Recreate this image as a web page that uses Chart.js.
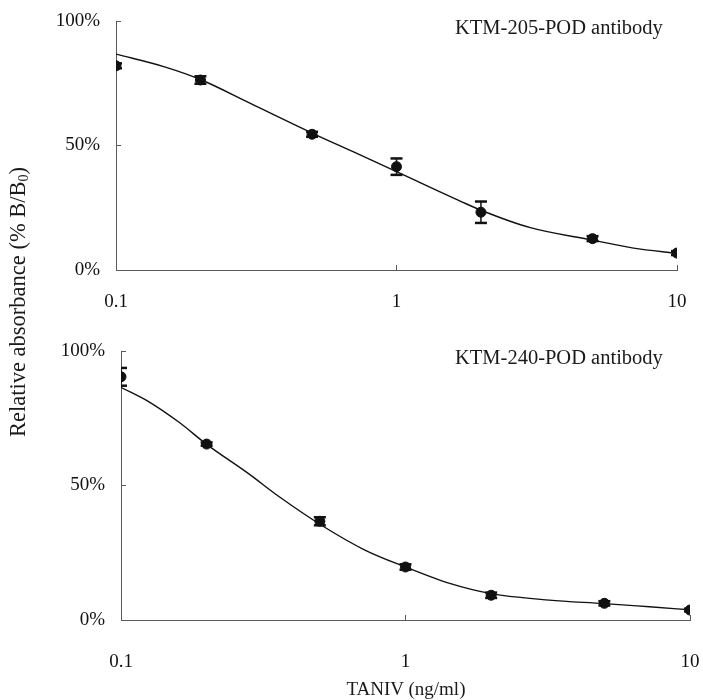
<!DOCTYPE html>
<html>
<head>
<meta charset="utf-8">
<script src="https://cdn.jsdelivr.net/npm/chart.js@4.4.1/dist/chart.umd.min.js"></script>
<style>
  html, body { margin: 0; padding: 0; background: #fff; }
  body { width: 703px; height: 700px; position: relative; overflow: hidden;
         font-family: "Liberation Serif", "Times New Roman", serif; color: #1a1a1a; }
  canvas { position: absolute; left: 0; }
  #c1 { top: 0; }
  #c2 { top: 335px; }
  .lbl { position: absolute; white-space: nowrap; font-size: 19px; line-height: 20px; }
  #t1 { left: 455px; top: 17px; font-size: 20.5px; }
  #t2 { left: 455px; top: 347px; font-size: 20.5px; }
  #xt { left: 206px; width: 400px; text-align: center; top: 679px; }
  #yt { left: -182px; top: 290px; width: 400px; height: 24px; line-height: 24px; text-align: center;
        font-size: 22.5px; transform: rotate(-90deg); transform-origin: 50% 50%; }
  #yt sub { font-size: 14px; vertical-align: -3px; line-height: 0; }
</style>
</head>
<body>
<canvas id="c1" width="703" height="335"></canvas>
<canvas id="c2" width="703" height="365"></canvas>
<div class="lbl" id="t1">KTM-205-POD antibody</div>
<div class="lbl" id="t2">KTM-240-POD antibody</div>
<div class="lbl" id="xt">TANIV (ng/ml)</div>
<div class="lbl" id="yt">Relative absorbance (% B/B<sub>0</sub>)</div>
<script>
// ---- data ----
const concentrations = [0.1, 0.2, 0.5, 1, 2, 5, 10];

const ktm205Mean = [82, 76.3, 54.5, 41.5, 23.2, 12.6, 6.8];
const ktm205Err  = [1, 1.5, 1, 3.3, 4.3, 1, 0.8];
const ktm205CurveX = [0.1, 0.15, 0.2, 0.3, 0.5, 0.7, 1, 1.7, 2, 3, 5, 7, 10];
const ktm205CurveY = [86.7, 81.5, 76.5, 67, 55, 47.5, 39.5, 27.5, 24, 17, 12, 8.8, 6.7];

const ktm240Mean = [90.4, 65.4, 36.7, 19.7, 9.2, 6.2, 3.7];
const ktm240Err  = [3.3, 0.6, 1.5, 1, 1, 0.8, 0.5];
const ktm240CurveX = [0.1, 0.125, 0.16, 0.2, 0.28, 0.36, 0.5, 0.72, 1, 1.43, 2, 3.2, 5, 7.2, 10];
const ktm240CurveY = [86.5, 81.2, 73.5, 65.3, 54.5, 45.8, 35.6, 26, 19.7, 13.6, 9.8, 7.4, 6.1, 4.9, 3.8];

const xTickValues = [0.1, 1, 10];
const yTickValues = [0, 50, 100];

const FONT = { family: '"Liberation Serif", "Times New Roman", serif', size: 19 };
const INK = '#111';
const AXIS = '#5a5a5a';

function noPad(s) { s.paddingLeft = 0; s.paddingRight = 0; s.paddingTop = 0; s.paddingBottom = 0; }

function makePanel(canvasId, means, errs, curveX, curveY, geom) {
  const markerData = concentrations.map((x, i) => ({ x: x, y: means[i] }));
  const errData = [];
  concentrations.forEach((x, i) => {
    errData.push({ x: x, y: means[i] - errs[i] });
    errData.push({ x: x, y: means[i] + errs[i] });
    errData.push({ x: x, y: null });
  });
  const curveData = curveX.map((x, i) => ({ x: x, y: curveY[i] }));

  return new Chart(document.getElementById(canvasId), {
    type: 'line',
    data: {
      datasets: [
        { data: markerData, showLine: false, pointStyle: 'circle', pointRadius: 5,
          pointBackgroundColor: INK, pointBorderColor: INK, pointBorderWidth: 1, order: 0 },
        { data: errData, showLine: true, spanGaps: false, borderColor: INK, borderWidth: 1.5,
          pointStyle: 'line', pointRadius: 6, pointBorderColor: INK, pointBorderWidth: 2.5, order: 1 },
        { data: curveData, showLine: true, borderColor: INK, borderWidth: 1.4, pointRadius: 0,
          cubicInterpolationMode: 'monotone', order: 2 }
      ]
    },
    options: {
      responsive: false,
      animation: false,
      devicePixelRatio: 1,
      events: [],
      layout: { padding: geom.padding },
      plugins: { legend: { display: false }, tooltip: { enabled: false }, title: { display: false } },
      scales: {
        x: {
          type: 'logarithmic', min: 0.1, max: 10,
          afterBuildTicks: s => { s.ticks = xTickValues.map(v => ({ value: v })); },
          afterFit: s => { s.height = geom.xHeight; noPad(s); },
          ticks: { callback: v => String(v), color: INK, font: FONT, padding: geom.xPad,
                   maxRotation: 0, autoSkip: false },
          grid: { drawOnChartArea: false, drawTicks: true, tickLength: -5, color: AXIS, lineWidth: 1 },
          border: { display: true, color: AXIS, width: 1 }
        },
        y: {
          type: 'linear', min: 0, max: 100,
          afterBuildTicks: s => { s.ticks = yTickValues.map(v => ({ value: v })); },
          afterFit: s => { s.width = geom.yWidth; noPad(s); },
          ticks: { callback: v => v + '%', color: INK, font: FONT, padding: 21 },
          grid: { drawOnChartArea: false, drawTicks: true, tickLength: -5, color: AXIS, lineWidth: 1 },
          border: { display: true, color: AXIS, width: 1 }
        }
      }
    }
  });
}

makePanel('c1', ktm205Mean, ktm205Err, ktm205CurveX, ktm205CurveY,
  { padding: { top: 21, right: 26, bottom: 25, left: 0 }, yWidth: 116, xHeight: 40, xPad: 26 });
makePanel('c2', ktm240Mean, ktm240Err, ktm240CurveX, ktm240CurveY,
  { padding: { top: 16, right: 13, bottom: 20, left: 0 }, yWidth: 121, xHeight: 60, xPad: 36 });
</script>
</body>
</html>
